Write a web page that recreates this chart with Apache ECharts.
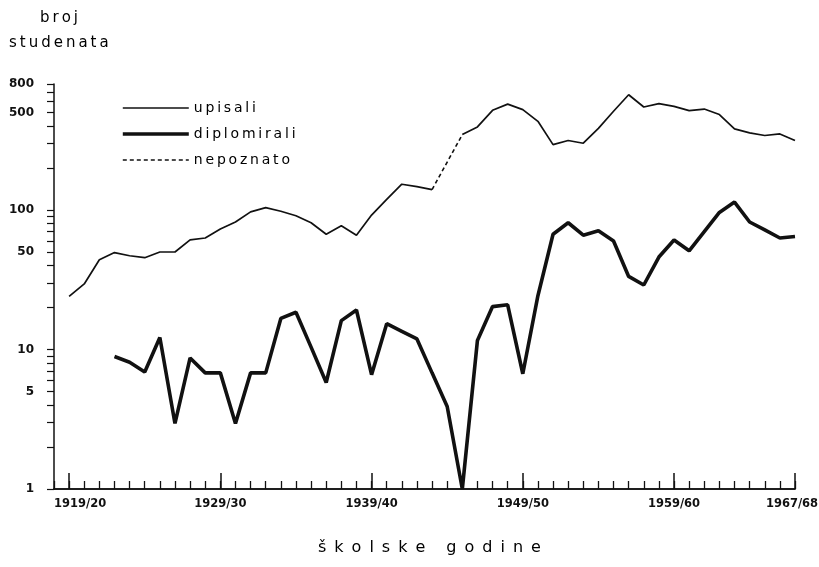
<!DOCTYPE html>
<html lang="hr">
<head>
    <meta charset="UTF-8">
    <title>broj studenata</title>
    <script src="https://cdn.jsdelivr.net/npm/echarts@6/dist/echarts.min.js"></script>
</head>
<body style="margin:0">
<div id="main" style="width: 819px;height:567px;"></div>
<script>
    // skolske godine 1919/20 .. 1967/68
    let years = []
    for (let y = 1919; y <= 1967; y++) years.push(y)

    // upisali, 1944/45 nije poznato
    let upisali = [24, 29.5, 44, 49.5, 47, 45.5, 50, 50, 61, 63,
        73, 82, 97, 104, 98, 91, 81, 67, 77, 66,
        92, 119, 153, 147, 140, null, 347, 394, 518, 574,
        524, 432, 294, 315, 301, 385, 510, 670, 547, 578,
        553, 515, 529, 483, 381, 357, 342, 351, 315]

    let diplomirali = [null, null, null, 8.9, 8.1, 6.9, 12.2, 2.95, 8.7, 6.8,
        6.8, 2.95, 6.8, 6.8, 16.7, 18.5, 10.4, 5.8, 16.1, 19.2,
        6.6, 15.3, 13.5, 11.9, 6.8, 3.9, 1, 11.6, 20.3, 20.9,
        6.7, 24.3, 67, 81, 66, 71, 60, 33.4, 29, 46,
        61, 51, 70, 96, 114, 82, 72, 63, 64.5]

    // isprekidani dio: 1943 -> 1945
    let nepoznatoYears = [1943, 1945]

    let xLabelYears = [1919, 1929, 1939, 1949, 1959, 1967]
    let yLabels = [1, 5, 10, 50, 100, 500, 800]
    let yTicks = [1, 2, 3, 4, 5, 6, 7, 8, 9, 10, 20, 30, 40, 50, 60, 70, 80, 90,
        100, 200, 300, 400, 500, 600, 700, 800]

    const ink = '#111'
    const font = 'DejaVu Sans'
    const spaced = (s, sep) => s.split('').join(sep)
    const widths = {upisali: 1.7, diplomirali: 3.6, nepoznato: 1.6}

    let upisaliData = years.map((y, i) => [y, upisali[i] == null ? '-' : upisali[i]])
    let diplData = years.map((y, i) => [y, diplomirali[i] == null ? '-' : diplomirali[i]])
    let nepData = nepoznatoYears.map(y => [y, upisali[years.indexOf(y)]])

    var myChart = echarts.init(document.getElementById('main'));

    option = {
        backgroundColor: '#fff',
        animation: false,
        grid: {left: 54, right: 24, top: 84, bottom: 78, outerBoundsMode: 'none'},
        legend: {
            left: 116, top: 96, orient: 'vertical',
            itemWidth: 66, itemHeight: 14, itemGap: 12,
            selectedMode: false,
            itemStyle: {opacity: 0},
            data: ['upisali', 'diplomirali', 'nepoznato'].map(n => ({
                name: n, lineStyle: {width: widths[n]}
            })),
            formatter: name => spaced(name, '\u2009'),
            textStyle: {fontFamily: font, fontSize: 14, color: '#000'}
        },
        xAxis: [{
            type: 'value', min: 1918, max: 1967, interval: 1,
            splitLine: {show: false},
            axisLine: {lineStyle: {color: ink, width: 1.5}},
            axisTick: {inside: true, length: 8, lineStyle: {color: ink, width: 1.3}},
            axisLabel: {show: false}
        }, {
            type: 'value', min: 1918, max: 1967, position: 'bottom',
            splitLine: {show: false},
            axisLine: {lineStyle: {color: ink, width: 1.5}},
            axisTick: {inside: true, length: 16, customValues: xLabelYears, lineStyle: {color: ink, width: 1.5}},
            axisLabel: {
                customValues: xLabelYears, margin: 9,
                fontFamily: font, fontWeight: 'bold', fontSize: 11.5, color: ink,
                formatter: function (v) {
                    let s = v + '/' + String((v + 1) % 100).padStart(2, '0')
                    if (v == 1919) return '{a|' + s + '}'
                    if (v == 1967) return '{b|' + s + '}'
                    return s
                },
                rich: {
                    a: {padding: [0, 0, 0, 22], fontFamily: font, fontWeight: 'bold', fontSize: 11.5, color: ink},
                    b: {padding: [0, 6, 0, 0], fontFamily: font, fontWeight: 'bold', fontSize: 11.5, color: ink}
                }
            }
        }],
        yAxis: [{
            type: 'log', logBase: 10, min: 1, max: 800,
            splitLine: {show: false},
            axisLine: {show: false},
            axisTick: {show: false},
            axisLabel: {show: false}
        }, {
            // ista skala u log10 jedinicama, samo za crtice i oznake
            type: 'value', min: 0, max: Math.log10(800), position: 'left',
            splitLine: {show: false},
            axisLine: {show: true, lineStyle: {color: ink, width: 1.5}},
            axisTick: {length: 7, customValues: yTicks.map(Math.log10), lineStyle: {color: ink, width: 1.2}},
            axisLabel: {
                customValues: yLabels.map(Math.log10), margin: 20,
                fontFamily: font, fontWeight: 'bold', fontSize: 12, color: ink,
                formatter: v => Math.round(Math.pow(10, v))
            }
        }],
        graphic: [{
            type: 'text', left: 40, top: 11,
            style: {text: spaced('broj', '\u2009'), fontFamily: font, fontSize: 15, fill: '#000'}
        }, {
            type: 'text', left: 9, top: 36,
            style: {text: spaced('studenata', '\u2009'), fontFamily: font, fontSize: 15, fill: '#000'}
        }, {
            type: 'text', left: 318, top: 540,
            style: {text: spaced('školske godine', '\u2002'), fontFamily: font, fontSize: 16, fill: '#000'}
        }],
        series: [{
            name: 'upisali', type: 'line', xAxisIndex: 0, yAxisIndex: 0,
            data: upisaliData, symbol: 'none', clip: false,
            lineStyle: {color: ink, width: widths.upisali}, itemStyle: {color: ink}
        }, {
            name: 'diplomirali', type: 'line', xAxisIndex: 0, yAxisIndex: 0,
            data: diplData, symbol: 'none', clip: false,
            lineStyle: {color: ink, width: widths.diplomirali}, itemStyle: {color: ink}
        }, {
            name: 'nepoznato', type: 'line', xAxisIndex: 0, yAxisIndex: 0,
            data: nepData, symbol: 'none', clip: false,
            lineStyle: {color: ink, width: widths.nepoznato, type: [4, 3]}, itemStyle: {color: ink}
        }]
    };

    myChart.setOption(option);
</script>
</body>
</html>
